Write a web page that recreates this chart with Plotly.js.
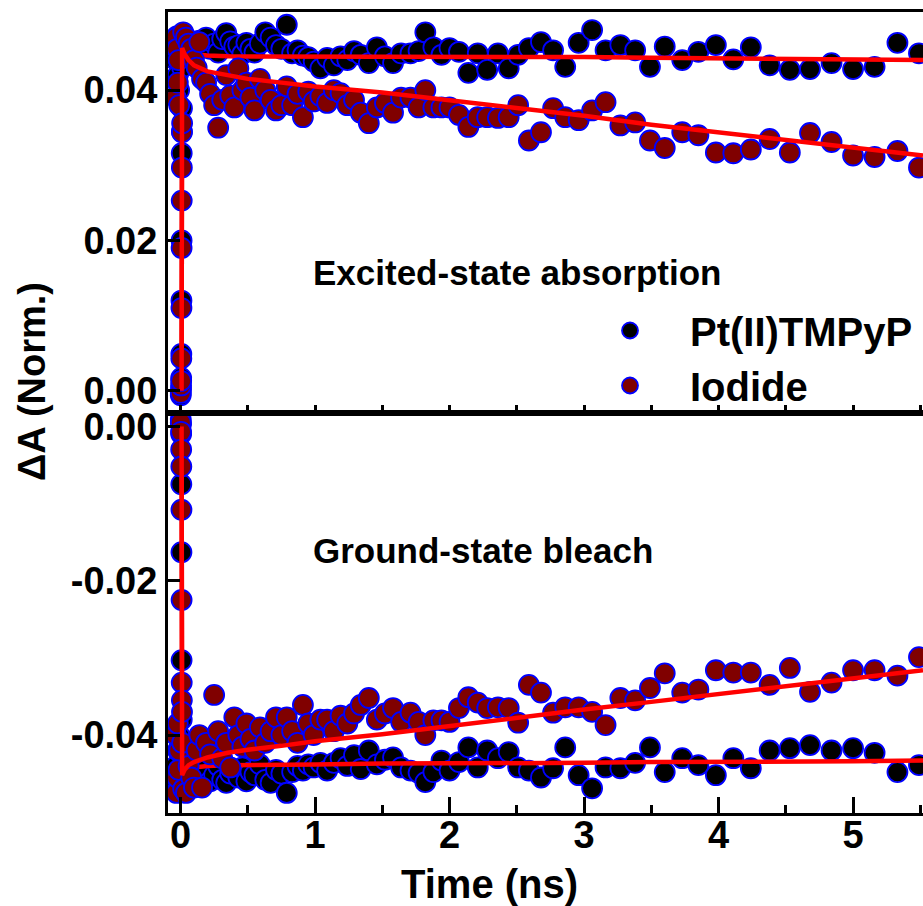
<!DOCTYPE html>
<html>
<head>
<meta charset="utf-8">
<script src="https://cdn.plot.ly/plotly-3.0.1.min.js"></script>
<style>html,body{margin:0;padding:0;background:#fff;}#chart{width:923px;height:906px;}</style>
</head>
<body>
<div id="chart"></div>
<script>
// Delay times (ns), shared by all four data series
const timeNs = [
  -0.035, -0.030, -0.025, -0.020, -0.015, -0.010, 0.002, 0.004, 0.005, 0.006, 0.007, 0.008, 0.009, 0.010, 0.011, 0.012,
  0.02, 0.04, 0.06, 0.08, 0.10, 0.12, 0.14, 0.16, 0.19, 0.22, 0.25, 0.28, 0.31, 0.34, 0.37, 0.40, 0.43, 0.46, 0.49, 0.52, 0.55,
  0.59, 0.63, 0.67, 0.71, 0.75, 0.79, 0.83, 0.87, 0.91, 0.95, 0.99, 1.04, 1.09, 1.14, 1.19, 1.24, 1.29, 1.34, 1.40, 1.46, 1.52, 1.58, 1.64,
  1.71, 1.77, 1.82, 1.88, 1.94, 2.00, 2.07, 2.14, 2.21, 2.28, 2.36, 2.44, 2.51, 2.59, 2.68, 2.77, 2.86, 2.96, 3.06, 3.16,
  3.27, 3.38, 3.49, 3.60, 3.73, 3.85, 3.98, 4.11, 4.24, 4.38, 4.53, 4.68, 4.84, 5.00, 5.16, 5.33, 5.49
];

// Excited-state absorption (top panel)
const esaPt = [
  0.0440, 0.0465, 0.0472, 0.0420, 0.0455, 0.0400, -0.0006, 0.0002, 0.0017, 0.0049, 0.0120, 0.0200, 0.0316, 0.0345, 0.0376, 0.0430,
  0.0465, 0.0470, 0.0462, 0.0458, 0.0455, 0.0452, 0.0466, 0.0460, 0.0470, 0.0455, 0.0462, 0.0450, 0.0468, 0.0476, 0.0465, 0.0458, 0.0460, 0.0448, 0.0463, 0.0455, 0.0450,
  0.0462, 0.0477, 0.0470, 0.0460, 0.0455, 0.0487, 0.0449, 0.0453, 0.0446, 0.0444, 0.0438, 0.0429, 0.0443, 0.0433, 0.0445, 0.0440, 0.0452, 0.0447, 0.0436, 0.0457, 0.0445, 0.0436, 0.0449,
  0.0449, 0.0452, 0.0477, 0.0457, 0.0447, 0.0456, 0.0451, 0.0423, 0.0449, 0.0427, 0.0449, 0.0429, 0.0447, 0.0456, 0.0464, 0.0453, 0.0431, 0.0463, 0.0480, 0.0453,
  0.0460, 0.0453, 0.0431, 0.0458, 0.0440, 0.0451, 0.0460, 0.0441, 0.0457, 0.0433, 0.0427, 0.0428, 0.0436, 0.0428, 0.0431, 0.0463, 0.0449
];
const esaIodide = [
  0.0390, 0.0470, 0.0455, 0.0410, 0.0440, 0.0380, -0.0003, 0.0007, 0.0013, 0.0043, 0.0110, 0.0190, 0.0253, 0.0297, 0.0344, 0.0356,
  0.0477, 0.0470, 0.0462, 0.0455, 0.0440, 0.0430, 0.0464, 0.0415, 0.0410, 0.0395, 0.0380, 0.0350, 0.0387, 0.0420, 0.0393, 0.0377, 0.0429, 0.0400, 0.0410, 0.0390, 0.0373,
  0.0415, 0.0400, 0.0387, 0.0373, 0.0380, 0.0405, 0.0380, 0.0395, 0.0364, 0.0398, 0.0385, 0.0392, 0.0383, 0.0400, 0.0396, 0.0380, 0.0387, 0.0370, 0.0356, 0.0377, 0.0383, 0.0370, 0.0390,
  0.0390, 0.0377, 0.0400, 0.0377, 0.0377, 0.0377, 0.0367, 0.0351, 0.0364, 0.0364, 0.0363, 0.0364, 0.0380, 0.0333, 0.0344, 0.0376, 0.0364, 0.0360, 0.0373, 0.0384,
  0.0353, 0.0357, 0.0333, 0.0323, 0.0344, 0.0340, 0.0317, 0.0316, 0.0321, 0.0335, 0.0317, 0.0343, 0.0331, 0.0313, 0.0311, 0.0319, 0.0297
];

// Ground-state bleach (bottom panel)
const gsbPt = [
  -0.0440, -0.0470, -0.0460, -0.0420, -0.0450, -0.0400, 0.0010, 0.0003, -0.0010, -0.0075, -0.0163, -0.0303, -0.0380, -0.0420, -0.0440, -0.0450,
  -0.0460, -0.0455, -0.0465, -0.0450, -0.0458, -0.0462, -0.0448, -0.0455, -0.0445, -0.0460, -0.0452, -0.0440, -0.0458, -0.0462, -0.0450, -0.0445, -0.0455, -0.0442, -0.0460, -0.0448, -0.0452,
  -0.0438, -0.0458, -0.0462, -0.0445, -0.0450, -0.0475, -0.0448, -0.0440, -0.0446, -0.0438, -0.0442, -0.0436, -0.0446, -0.0436, -0.0430, -0.0440, -0.0426, -0.0444, -0.0420, -0.0438, -0.0432, -0.0429, -0.0442,
  -0.0446, -0.0449, -0.0461, -0.0448, -0.0433, -0.0446, -0.0435, -0.0416, -0.0442, -0.0420, -0.0430, -0.0422, -0.0442, -0.0446, -0.0455, -0.0443, -0.0416, -0.0452, -0.0469, -0.0442,
  -0.0443, -0.0436, -0.0416, -0.0448, -0.0430, -0.0439, -0.0452, -0.0430, -0.0443, -0.0420, -0.0417, -0.0413, -0.0420, -0.0417, -0.0423, -0.0448, -0.0439
];
const gsbIodide = [
  -0.0400, -0.0475, -0.0455, -0.0385, -0.0445, -0.0420, 0.0005, -0.0007, -0.0030, -0.0052, -0.0108, -0.0225, -0.0332, -0.0355, -0.0370, -0.0410,
  -0.0470, -0.0475, -0.0440, -0.0455, -0.0468, -0.0420, -0.0400, -0.0468, -0.0410, -0.0425, -0.0348, -0.0395, -0.0430, -0.0410, -0.0442, -0.0377, -0.0400, -0.0415, -0.0385, -0.0405, -0.0420,
  -0.0390, -0.0410, -0.0395, -0.0377, -0.0400, -0.0377, -0.0395, -0.0410, -0.0361, -0.0385, -0.0400, -0.0380, -0.0380, -0.0395, -0.0375, -0.0385, -0.0372, -0.0361, -0.0352, -0.0380, -0.0372, -0.0365, -0.0383,
  -0.0371, -0.0383, -0.0400, -0.0381, -0.0381, -0.0383, -0.0365, -0.0351, -0.0358, -0.0365, -0.0364, -0.0365, -0.0384, -0.0335, -0.0345, -0.0371, -0.0364, -0.0364, -0.0370, -0.0387,
  -0.0352, -0.0355, -0.0339, -0.0320, -0.0345, -0.0341, -0.0316, -0.0319, -0.0319, -0.0335, -0.0313, -0.0344, -0.0332, -0.0316, -0.0316, -0.0323, -0.0299
];

// Fit curves
const fitTime = [0.008, 0.012, 0.03, 0.06, 0.1, 0.2, 0.35, 0.5, 0.75, 1.0, 1.5, 2.0, 2.5, 3.0, 3.5, 4.0, 4.5, 5.0, 5.52];
const esaPtFit = [0.0000, 0.0456, 0.0453, 0.0450, 0.0448, 0.0446, 0.0445, 0.0445, 0.0445, 0.0445, 0.0445, 0.0445, 0.0444, 0.0444, 0.0443, 0.0442, 0.0442, 0.0441, 0.0440];
const esaIodideFit = [0.0000, 0.0456, 0.0448, 0.0440, 0.0433, 0.0425, 0.0420, 0.0415, 0.0410, 0.0405, 0.0397, 0.0387, 0.0377, 0.0366, 0.0354, 0.0344, 0.0334, 0.0323, 0.0313];
const gsbPtFit = [0.0000, -0.0452, -0.0447, -0.0444, -0.0442, -0.0440, -0.0439, -0.0439, -0.0438, -0.0438, -0.0437, -0.0437, -0.0436, -0.0436, -0.0435, -0.0435, -0.0434, -0.0434, -0.0433];
const gsbIodideFit = [0.0000, -0.0452, -0.0445, -0.0439, -0.0435, -0.0429, -0.0423, -0.0419, -0.0414, -0.0408, -0.0399, -0.0388, -0.0377, -0.0367, -0.0357, -0.0347, -0.0337, -0.0326, -0.0316];

// Tick labels
const xTickVals = [0, 1, 2, 3, 4, 5];
const xTickText = ['0', '1', '2', '3', '4', '5'];
const esaTickVals = [0, 0.02, 0.04];
const esaTickText = ['0.00', '0.02', '0.04'];
const gsbTickVals = [-0.04, -0.02, 0];
const gsbTickText = ['-0.04', '-0.02', '0.00'];

const seriesNames = ['Pt(II)TMPyP', 'Iodide'];

const FONT = 'Arial, "Liberation Sans", sans-serif';
const markerPt = {size: 20, color: '#000000', line: {color: '#0000FF', width: 1.8}};
const markerI = {size: 20, color: '#800000', line: {color: '#0000FF', width: 1.8}};
const fitLine = {color: '#FF0000', width: 4.5};

const traces = [
  {x: timeNs, y: esaPt, xaxis: 'x2', yaxis: 'y2', mode: 'markers', marker: markerPt, name: seriesNames[0], legendgroup: 'pt'},
  {x: fitTime, y: esaPtFit, xaxis: 'x2', yaxis: 'y2', mode: 'lines', line: fitLine, showlegend: false},
  {x: timeNs, y: esaIodide, xaxis: 'x2', yaxis: 'y2', mode: 'markers', marker: markerI, name: seriesNames[1], legendgroup: 'io'},
  {x: fitTime, y: esaIodideFit, xaxis: 'x2', yaxis: 'y2', mode: 'lines', line: fitLine, showlegend: false},
  {x: timeNs, y: gsbPt, xaxis: 'x', yaxis: 'y', mode: 'markers', marker: markerPt, name: seriesNames[0], legendgroup: 'pt', showlegend: false},
  {x: fitTime, y: gsbPtFit, xaxis: 'x', yaxis: 'y', mode: 'lines', line: fitLine, showlegend: false},
  {x: timeNs, y: gsbIodide, xaxis: 'x', yaxis: 'y', mode: 'markers', marker: markerI, name: seriesNames[1], legendgroup: 'io', showlegend: false},
  {x: fitTime, y: gsbIodideFit, xaxis: 'x', yaxis: 'y', mode: 'lines', line: fitLine, showlegend: false}
];

const tickFont = {family: FONT, size: 38, color: '#000', weight: 'bold'};
const L = 168, T = 12, B = 93, W = 923, H = 906;
const pw = W - L, ph = H - T - B;
const px = v => (v - L) / pw;
const py = v => (H - B - v) / ph;

const layout = {
  width: W, height: H,
  margin: {l: L, r: 0, t: T, b: B, pad: 0},
  paper_bgcolor: '#fff', plot_bgcolor: '#fff',
  showlegend: true,
  legend: {x: px(570), xanchor: 'left', y: py(298), yanchor: 'top', bgcolor: 'rgba(0,0,0,0)',
           font: {family: FONT, size: 40, color: '#000', weight: 'bold'}, itemwidth: 110, tracegroupgap: 0},
  xaxis: {domain: [0, 1], anchor: 'y', range: [-0.093, 5.52], showgrid: false, zeroline: false,
          showline: true, linecolor: '#000', linewidth: 3, mirror: true,
          ticks: 'inside', ticklen: 16, tickwidth: 3, tickcolor: '#000', ticklabelstandoff: -14,
          tickvals: xTickVals, ticktext: xTickText, tickfont: tickFont,
          minor: {ticks: 'inside', dtick: 0.5, tick0: 0, ticklen: 8, tickwidth: 3, tickcolor: '#000', showgrid: false}},
  xaxis2: {domain: [0, 1], anchor: 'y2', matches: 'x', range: [-0.093, 5.52], showgrid: false, zeroline: false,
           showline: true, linecolor: '#000', linewidth: 3, mirror: true,
           ticks: 'inside', ticklen: 8, tickwidth: 3, tickcolor: '#000', dtick: 0.5, tick0: 0, showticklabels: false},
  yaxis: {domain: [0, 0.5], anchor: 'x', range: [-0.0501, 0.0018], showgrid: false, zeroline: false,
          showline: true, linecolor: '#000', linewidth: 3,
          ticks: 'inside', ticklen: 12, tickwidth: 3, tickcolor: '#000',
          tickvals: gsbTickVals, ticktext: gsbTickText, tickfont: tickFont},
  yaxis2: {domain: [0.5, 1], anchor: 'x2', range: [-0.0029, 0.0504], showgrid: false, zeroline: false,
           showline: true, linecolor: '#000', linewidth: 3,
           ticks: 'inside', ticklen: 12, tickwidth: 3, tickcolor: '#000',
           tickvals: esaTickVals, ticktext: esaTickText, tickfont: tickFont},
  annotations: [
    {text: 'Excited-state absorption', xref: 'paper', yref: 'paper', x: px(311), y: py(272), xanchor: 'left', yanchor: 'middle',
     showarrow: false, font: {family: FONT, size: 35, color: '#000', weight: 'bold'}},
    {text: 'Ground-state bleach', xref: 'paper', yref: 'paper', x: px(311), y: py(550), xanchor: 'left', yanchor: 'middle',
     showarrow: false, font: {family: FONT, size: 35, color: '#000', weight: 'bold'}},
    {text: 'Time (ns)', xref: 'paper', yref: 'paper', x: px(489), y: py(884), xanchor: 'center', yanchor: 'middle',
     showarrow: false, font: {family: FONT, size: 40, color: '#000', weight: 'bold'}},
    {text: '\u0394A (Norm.)', xref: 'paper', yref: 'paper', x: px(32), y: py(382), xanchor: 'center', yanchor: 'middle',
     textangle: -90, showarrow: false, font: {family: FONT, size: 38, color: '#000', weight: 'bold'}}
  ]
};

Plotly.newPlot('chart', traces, layout, {staticPlot: true, displayModeBar: false});
</script>
</body>
</html>
